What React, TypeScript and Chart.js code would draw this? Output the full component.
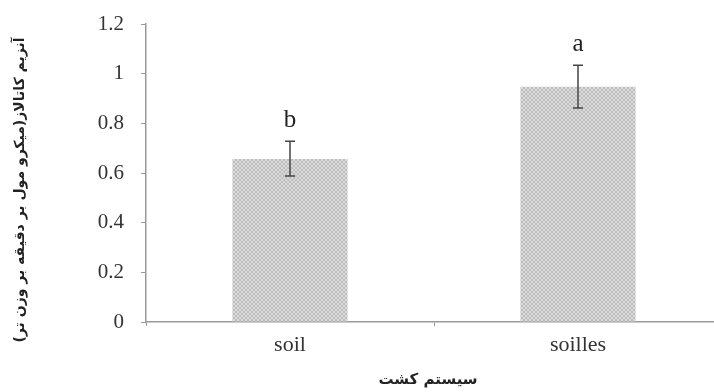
import React, { useEffect, useRef } from "react";
import { Chart, registerables } from "chart.js";

Chart.register(...registerables);

const categories = ["soil", "soilles"];
const means = [0.656, 0.947];
const errLow = [0.588, 0.862];
const errHigh = [0.728, 1.034];
const letters = ["b", "a"];
const yTitle = "آنزیم کاتالاز(میکرو مول بر دقیقه بر وزن تر)";
const xTitle = "سیستم کشت";

function makePattern(): CanvasPattern | string {
  const c = document.createElement("canvas");
  c.width = 4;
  c.height = 4;
  const g = c.getContext("2d");
  if (!g) return "#cfcfcf";
  g.fillStyle = "#dcdcdc";
  g.fillRect(0, 0, 4, 4);
  g.fillStyle = "#bdbdbd";
  for (let i = 0; i < 4; i++) {
    g.fillRect(i, i, 1, 1);
    g.fillRect(3 - i, i, 1, 1);
  }
  const p = g.createPattern(c, "repeat");
  return p || "#cfcfcf";
}

const extrasPlugin = {
  id: "extras",
  afterDatasetsDraw(chart: any) {
    const ctx = chart.ctx;
    const x = chart.scales.x;
    const y = chart.scales.y;
    ctx.save();
    ctx.strokeStyle = "#454545";
    ctx.lineWidth = 1.5;
    categories.forEach((_, i) => {
      const px = x.getPixelForValue(i);
      const top = y.getPixelForValue(errHigh[i]);
      const bot = y.getPixelForValue(errLow[i]);
      ctx.beginPath();
      ctx.moveTo(px, top);
      ctx.lineTo(px, bot);
      ctx.moveTo(px - 5, top);
      ctx.lineTo(px + 5, top);
      ctx.moveTo(px - 5, bot);
      ctx.lineTo(px + 5, bot);
      ctx.stroke();
      ctx.fillStyle = "#222";
      ctx.font = "25px 'Liberation Serif'";
      ctx.textAlign = "center";
      ctx.textBaseline = "middle";
      ctx.fillText(letters[i], px, top - 21);
    });
    // y title
    ctx.fillStyle = "#222";
    ctx.font = "bold 14px 'DejaVu Sans'";
    ctx.textAlign = "center";
    ctx.textBaseline = "middle";
    ctx.save();
    ctx.translate(20, 190);
    ctx.rotate(-Math.PI / 2);
    ctx.direction = "rtl";
    ctx.fillText(yTitle, 0, 0);
    ctx.restore();
    // x title
    ctx.font = "bold 15px 'DejaVu Sans'";
    ctx.direction = "rtl";
    ctx.fillText(xTitle, 428, 380);
    ctx.restore();
  },
};

export default function App() {
  const ref = useRef<HTMLCanvasElement | null>(null);
  useEffect(() => {
    document.body.style.margin = "0";
    const canvas = ref.current;
    if (!canvas) return;
    const chart = new Chart(canvas, {
      type: "bar",
      data: {
        labels: categories,
        datasets: [
          {
            data: means,
            backgroundColor: makePattern() as any,
            borderWidth: 0,
            barPercentage: 0.4,
            categoryPercentage: 1,
          },
        ],
      },
      options: {
        animation: false,
        responsive: false,
        maintainAspectRatio: false,
        layout: { padding: { top: 24, left: 0, right: 0, bottom: 0 } },
        plugins: { legend: { display: false }, tooltip: { enabled: false } },
        scales: {
          x: {
            afterFit: (s: any) => {
              s.height = 70;
              s.paddingLeft = 0;
              s.paddingRight = 0;
            },
            grid: {
              display: true,
              drawOnChartArea: false,
              tickLength: 4,
              color: "#9a9a9a",
            },
            border: { color: "#9a9a9a", width: 1.5 },
            ticks: {
              color: "#333",
              font: { family: "'Liberation Serif'", size: 22 },
              padding: 6,
            },
          },
          y: {
            min: 0,
            max: 1.2,
            afterFit: (s: any) => {
              s.width = 146;
              s.paddingTop = 0;
              s.paddingBottom = 0;
            },
            grid: {
              display: true,
              drawOnChartArea: false,
              tickLength: 5,
              color: "#9a9a9a",
            },
            border: { color: "#9a9a9a", width: 1.5 },
            ticks: {
              stepSize: 0.2,
              color: "#333",
              padding: 17,
              font: { family: "'Liberation Serif'", size: 21 },
              callback: (v: any) => String(Math.round(Number(v) * 10) / 10),
            },
          },
        },
      },
      plugins: [extrasPlugin],
    });
    return () => chart.destroy();
  }, []);
  return (
    <div style={{ width: 714, height: 392, overflow: "hidden", position: "relative", background: "#fff" }}>
      <canvas ref={ref} width={722} height={392} style={{ position: "absolute", left: 0, top: 0 }} />
    </div>
  );
}
